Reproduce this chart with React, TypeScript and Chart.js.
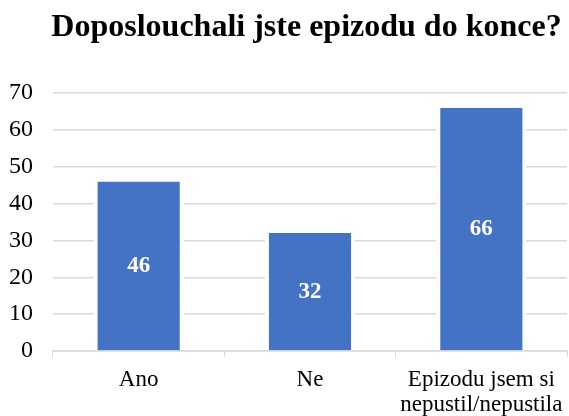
import React, { useEffect, useRef } from "react";
import { Chart, registerables } from "chart.js";

Chart.register(...registerables);

const categories: (string | string[])[] = ["Ano", "Ne", ["Epizodu jsem si", "nepustil/nepustila"]];
const values: number[] = [46, 32, 66];
const yTicks: number[] = [0, 10, 20, 30, 40, 50, 60, 70];
const titleText = "Doposlouchali jste epizodu do konce?";

const FONT = "'Liberation Serif', 'Times New Roman', serif";

const labelPlugin = {
  id: "barLabels",
  afterDatasetsDraw(chart: any) {
    const ctx = chart.ctx;
    const meta = chart.getDatasetMeta(0);
    ctx.save();
    ctx.fillStyle = "#ffffff";
    ctx.font = `bold 23px ${FONT}`;
    ctx.textAlign = "center";
    ctx.textBaseline = "middle";
    meta.data.forEach((bar: any, i: number) => {
      const y = (bar.y + bar.base) / 2;
      ctx.fillText(String(values[i]), bar.x, y);
    });
    ctx.restore();
  },
};

const titlePlugin = {
  id: "customTitle",
  afterDraw(chart: any) {
    const ctx = chart.ctx;
    ctx.save();
    ctx.fillStyle = "#000000";
    ctx.font = `bold 32px ${FONT}`;
    ctx.textAlign = "center";
    ctx.textBaseline = "alphabetic";
    ctx.fillText(titleText, 306.5, 36);
    ctx.restore();
  },
};

export default function App() {
  const ref = useRef<HTMLCanvasElement>(null);
  useEffect(() => {
    document.body.style.margin = "0";
    const chart = new Chart(ref.current!, {
      type: "bar",
      data: {
        labels: categories,
        datasets: [
          {
            data: values,
            backgroundColor: "#4472C4",
            borderColor: "#ffffff",
            borderWidth: { left: 4, right: 4, top: 0, bottom: 0 },
            borderSkipped: false,
            categoryPercentage: 1,
            barPercentage: 0.526,
          },
        ],
      },
      options: {
        animation: false,
        responsive: false,
        layout: { padding: { left: 8, right: 2, top: 93, bottom: 0 } },
        plugins: {
          legend: { display: false },
          tooltip: { enabled: false },
          title: { display: false },
        },
        scales: {
          x: {
            afterFit: (axis: any) => {
              axis.height = 65;
              axis.paddingLeft = 0;
              axis.paddingRight = 0;
            },
            grid: {
              drawOnChartArea: false,
              drawTicks: true,
              tickLength: 6,
              color: "#d9d9d9",
            },
            border: { color: "#d9d9d9", width: 1.5 },
            ticks: {
              color: "#000000",
              font: { family: FONT, size: 23, lineHeight: 1.087 },
              padding: 10,
              maxRotation: 0,
              autoSkip: false,
            },
          },
          y: {
            min: 0,
            max: 70,
            afterBuildTicks: (axis: any) => {
              axis.ticks = yTicks.map((v) => ({ value: v }));
            },
            afterFit: (axis: any) => {
              axis.width = 45;
            },
            grid: { color: "#d9d9d9", drawTicks: false, lineWidth: 1.5 },
            border: { display: false },
            ticks: {
              color: "#000000",
              font: { family: FONT, size: 24 },
              padding: 20,
            },
          },
        },
      },
      plugins: [labelPlugin, titlePlugin],
    });
    return () => chart.destroy();
  }, []);
  return (
    <div style={{ width: 569, height: 416 }}>
      <canvas ref={ref} width={569} height={416} style={{ display: "block" }} />
    </div>
  );
}
